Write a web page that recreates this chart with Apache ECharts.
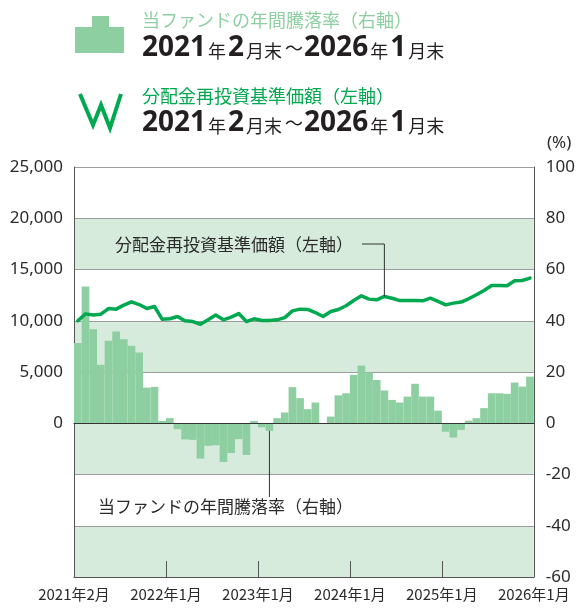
<!DOCTYPE html>
<html><head><meta charset="utf-8">
<script src="https://cdn.jsdelivr.net/npm/echarts@6/dist/echarts.min.js"></script>
<style>html,body{margin:0;padding:0;background:#fff}#c{width:578px;height:608px}</style>
</head><body><div id="c"></div>
<script>
// annual return (%), right axis
const returns = [31.3, 53.4, 36.7, 22.8, 32.2, 35.8, 32.8, 30.2, 27.6, 13.9, 14.2, 0.9,
  2.0, -2.3, -6.3, -6.5, -13.8, -8.8, -8.6, -15.1, -11.6, -6.2, -12.4, 0.9,
  -1.6, -3.0, 2.0, 4.2, 14.1, 9.8, 5.5, 8.1, 0, 2.6, 10.9, 11.7,
  18.9, 22.5, 19.8, 16.9, 12.8, 9.1, 8.1, 10.4, 15.4, 10.4, 10.4, 4.9,
  -3.3, -5.6, -2.6, 1.0, 2.0, 5.9, 11.7, 11.7, 11.5, 15.9, 14.3, 18.2];
// NAV with dividends reinvested, left axis
const navValues = [10000, 10670, 10570, 10640, 11190, 11130, 11520, 11850, 11580, 11190, 11390, 10150,
  10190, 10410, 9990, 9920, 9660, 10090, 10570, 10090, 10350, 10700, 9920, 10190,
  10020, 10020, 10090, 10310, 10960, 11130, 11100, 10800, 10410, 10900, 11100, 11460,
  11970, 12430, 12110, 12040, 12370, 12190, 11970, 11970, 11970, 11940, 12200, 11880,
  11550, 11720, 11820, 12140, 12530, 12950, 13440, 13440, 13410, 13900, 13930, 14160];
const months = [];
for (let i = 0; i < 60; i++) {
  const y = 2021 + Math.floor((1 + i) / 12);
  const m = ((1 + i) % 12) + 1;
  months.push(y + '年' + m + '月');
}
const xTickLabels = ['2021年2月', '2022年1月', '2023年1月', '2024年1月', '2025年1月', '2026年1月'];
const leftAxis = {min: -15000, max: 25000, interval: 5000};
const rightAxis = {min: -60, max: 100, interval: 20};

const latin = "'Noto Sans', 'Noto Sans CJK JP', sans-serif";
const jp = "'Noto Sans CJK JP', sans-serif";
const BAR = '#8dcfa1', BAND = '#d6ebdc', LINE = '#00a84f', TXT = '#2b2b2b';

const chart = echarts.init(document.getElementById('c'), null, {renderer: 'canvas'});
chart.setOption({
  animation: false,
  grid: {left: 74, right: 43, top: 167, bottom: 31, containLabel: false},
  xAxis: [
    {type: 'category', data: months, boundaryGap: true, position: 'bottom',
     axisLine: {show: true, onZero: true, onZeroAxisIndex: 0, lineStyle: {color: '#333', width: 1.2}},
     axisTick: {show: false}, axisLabel: {show: false}, splitLine: {show: false}, z: 4},
    {type: 'value', min: 0, max: 60, interval: 12, position: 'bottom',
     axisLine: {show: true, onZero: false, lineStyle: {color: '#555', width: 1}},
     axisTick: {show: true, inside: true, length: 16, lineStyle: {color: '#555', width: 1}},
     axisLabel: {show: true, margin: 10, fontSize: 15, color: TXT, fontFamily: jp,
       showMinLabel: true, showMaxLabel: true,
       formatter: v => xTickLabels[Math.round(v / 12)] || ''},
     splitLine: {show: false}}
  ],
  yAxis: [
    {type: 'value', position: 'left', min: leftAxis.min, max: leftAxis.max, interval: leftAxis.interval,
     axisLine: {show: true, lineStyle: {color: '#555', width: 1}},
     axisTick: {show: false},
     axisLabel: {margin: 11, fontSize: 17, color: TXT, fontFamily: latin,
       formatter: v => v >= 0 ? v.toLocaleString('en-US') : ''},
     splitLine: {show: true, lineStyle: {color: '#9c9c9c', width: 1}},
     splitArea: {show: true, areaStyle: {color: [BAND, '#ffffff']}}},
    {type: 'value', position: 'right', min: rightAxis.min, max: rightAxis.max, interval: rightAxis.interval,
     axisLine: {show: true, lineStyle: {color: '#555', width: 1}},
     axisTick: {show: false},
     axisLabel: {margin: 12, fontSize: 17, color: TXT, fontFamily: latin},
     splitLine: {show: false}}
  ],
  series: [
    {type: 'bar', name: '当ファンドの年間騰落率', xAxisIndex: 0, yAxisIndex: 1, data: returns,
     barCategoryGap: '0%', itemStyle: {color: BAR}, z: 2},
    {type: 'line', name: '分配金再投資基準価額', xAxisIndex: 0, yAxisIndex: 0, data: navValues,
     symbol: 'none', smooth: false, lineStyle: {color: LINE, width: 3.5, join: 'round', cap: 'round'}, z: 5}
  ]
});

const navPt = chart.convertToPixel({xAxisIndex: 0, yAxisIndex: 0}, [months[40], navValues[40]]);
const barPt = chart.convertToPixel({xAxisIndex: 0, yAxisIndex: 1}, [months[25], returns[25]]);

const richLine = {
  d: {fontSize: 28, fontWeight: 'bold', fontFamily: "'Noto Sans', sans-serif", fill: '#231f20', verticalAlign: 'bottom', lineHeight: 32},
  k: {fontSize: 18, fontFamily: jp, fill: '#231f20', verticalAlign: 'bottom', lineHeight: 32, padding: [0, 2, 2, 2]},
  t: {fontSize: 18, fontFamily: jp, fill: '#231f20', verticalAlign: 'bottom', lineHeight: 32, padding: [0, 1, 5, 1]}
};
const periodText = '{d|2021}{k|年}{d|2}{k|月末}{t|～}{d|2026}{k|年}{d|1}{k|月末}';

chart.setOption({
  graphic: [
    {type: 'polygon', shape: {points: [[75, 53], [75, 27], [92, 27], [92, 16], [109, 16], [109, 27], [124, 27], [124, 53]]},
     style: {fill: BAR}},
    {type: 'polyline', shape: {points: [[80, 94], [93, 125], [101, 105], [110, 128], [121, 94]]},
     style: {stroke: LINE, lineWidth: 4, fill: null, lineJoin: 'miter'}},
    {type: 'text', x: 142, y: 20, style: {text: '当ファンドの年間騰落率（右軸）', fontSize: 18, fontFamily: jp,
     fill: BAR, verticalAlign: 'middle'}},
    {type: 'text', x: 142, y: 62, style: {text: periodText, rich: richLine, verticalAlign: 'bottom'}},
    {type: 'text', x: 142, y: 96, style: {text: '分配金再投資基準価額（左軸）', fontSize: 18, fontFamily: jp,
     fill: LINE, verticalAlign: 'middle'}},
    {type: 'text', x: 142, y: 137, style: {text: periodText, rich: richLine, verticalAlign: 'bottom'}},
    {type: 'text', x: 547, y: 143, style: {text: '(%)', fontSize: 17, fontFamily: latin, fill: TXT, verticalAlign: 'middle'}},
    {type: 'text', x: 115, y: 245, z: 10, style: {text: '分配金再投資基準価額（左軸）', fontSize: 17, fontFamily: jp,
     fill: TXT, verticalAlign: 'middle'}},
    {type: 'polyline', z: 10, shape: {points: [[362, 244], [navPt[0], 244], [navPt[0], navPt[1]]]},
     style: {stroke: '#333', lineWidth: 1, fill: null}},
    {type: 'text', x: 98, y: 507, z: 10, style: {text: '当ファンドの年間騰落率（右軸）', fontSize: 17, fontFamily: jp,
     fill: TXT, verticalAlign: 'middle'}},
    {type: 'line', z: 10, shape: {x1: barPt[0], y1: barPt[1], x2: barPt[0], y2: 497},
     style: {stroke: '#333', lineWidth: 1}}
  ]
});
</script></body></html>
